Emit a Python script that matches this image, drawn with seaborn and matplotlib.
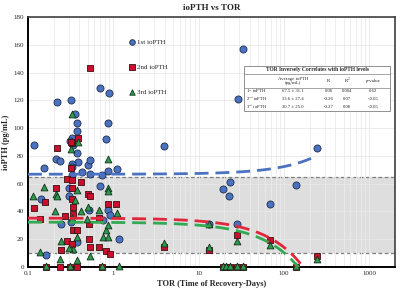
import numpy as np
import pandas as pd
import matplotlib
matplotlib.use("Agg")
import matplotlib.pyplot as plt
import seaborn as sns

# ---------------- data ----------------
x1 = [0.70, 0.885, 0.22, 0.317, 0.36, 0.38, 0.87, 0.38, 0.33, 0.83, 0.31, 0.34, 0.118, 3.95,
      32.8, 28.7, 243, 19.4, 23.3, 22.5, 68.7, 137, 28.4, 13.2,
      0.154, 0.215, 0.235, 0.38, 0.39, 0.33, 0.33, 0.43, 0.50, 0.54, 0.54, 0.74, 0.87, 1.09,
      0.33, 0.70, 0.30, 0.143, 0.30, 0.246, 0.164, 1.16, 0.87, 0.91, 0.52, 0.38, 0.32, 0.76]
y1 = [129, 125, 119, 120, 110, 104, 104, 98, 93, 92, 91, 88, 87.6, 87.1,
      157, 121, 86, 56.4, 61.2, 51.1, 45.6, 59.3, 31.2, 30.7,
      71, 77.5, 76.3, 82.3, 75.6, 74.4, 72, 68.4, 73.2, 76.8, 66.7, 66, 69, 70.8,
      66.5, 58.3, 56.9, 49.2, 50.9, 30.7, 8.4, 20, 40.8, 37.2, 40.8, 18, 32.4, 33.6]

x2 = [0.53, 0.22, 0.39, 0.33, 0.32, 0.32, 0.29, 0.33, 0.42, 0.215, 0.33, 0.117, 0.157, 0.51,
      0.53, 0.33, 0.34, 0.87, 1.07, 0.275, 0.34, 0.137, 0.68, 0.52, 0.34, 0.38, 0.52, 0.29,
      0.33, 0.246, 0.53, 0.68, 0.83, 0.91, 0.24, 0.38, 0.31, 0.73, 0.164,
      28.4, 68.7, 243, 3.95, 13.2, 19.2, 20.8, 23.3, 28.4, 33.4, 137]
y2 = [143, 86, 93, 89, 90, 71.3, 63.6, 63, 61.2, 57, 57, 42.8, 46.8, 52.8,
      50.9, 49.2, 43.2, 45.1, 45.1, 36.7, 38, 34.8, 35.5, 31.2, 26.4, 26.9, 20.4, 18.7,
      16.8, 12, 14.4, 14.4, 11.5, 9.6, 0, 0, 0, 0, 0,
      22.8, 19.7, 7.7, 14.4, 12, 0, 0, 0, 0, 0, 0]

x3 = [0.33, 0.39, 0.32, 0.87, 0.115, 0.154, 0.215, 0.22, 0.38, 0.36, 0.42, 0.21, 0.51, 0.68,
      1.09, 0.87, 0.87, 0.33, 0.83, 0.87, 0.246, 0.38, 0.137, 0.235, 0.38, 0.53, 0.76, 0.87,
      0.34, 0.30, 0.164, 0.31, 0.73, 1.16, 0.49,
      28.4, 68.7, 243, 3.95, 13.2, 13.2, 19.2, 20.8, 23.3, 28.4, 33.4, 137]
y3 = [110.4, 90, 84.7, 77.5, 50.9, 57.6, 52.8, 50.9, 55.7, 48, 40.1, 40.3, 43.2, 40.8,
      39.2, 57, 55, 35.6, 27, 30, 18.5, 21.6, 10.8, 6, 4.8, 7.7, 21.6, 21.6,
      13.2, 13.7, 0.5, 0.5, 0.5, 0.5, 34.8,
      18.5, 16.1, 6, 17.3, 14.4, 30.7, 0.5, 0.5, 0.5, 0.5, 0.5, 0.5]

series_names = ["1st ioPTH", "2nd ioPTH", "3rd ioPTH"]
trend_intercepts = [66.8, 35.2, 32.3]
trend_slopes = [0.055, -0.21, -0.22]

table_title = "TOR Inversely Correlates with ioPTH levels"
table_header = ["", "Average ioPTH\n(pg/mL)", "R", "R$^2$", "p-value"]
table_rows = [
    ["1$^{st}$ ioPTH", "67.5 \u00b1 31.1", "0.06", "0.004", "0.62"],
    ["2$^{nd}$ ioPTH", "33.6 \u00b1 27.4", "-0.26", "0.07", "<0.05"],
    ["3$^{rd}$ ioPTH", "30.7 \u00b1 25.0", "-0.27", "0.08", "<0.05"],
]

# ---------------- style ----------------
sns.set_style("white")
plt.rcParams["font.family"] = ["Liberation Serif", "DejaVu Serif"]
plt.rcParams["mathtext.fontset"] = "stix"

W, H = 400, 291
fig = plt.figure(figsize=(4.0, 2.91), dpi=100)
L, R, T, B = 28, 395, 17, 267
ax = fig.add_axes([L / W, 1 - B / H, (R - L) / W, (B - T) / H])

def axp(px, py):
    return (px - L) / (R - L), (B - py) / (B - T)

blue, red, green = "#4A72C0", "#C8102E", "#2E9A4E"

ax.axhspan(10, 65, color="#DEDEDE", zorder=0.1, lw=0)
ax.set_xscale("log")
ax.set_xlim(0.1, 2000)
ax.set_ylim(0, 180)
ax.set_yticks(range(0, 181, 20))
ax.grid(which="major", axis="both", color="#E8E8E8", lw=0.6, zorder=0.3)
ax.grid(which="minor", axis="x", color="#EBEBEB", lw=0.6, zorder=0.3)
ax.set_axisbelow(True)
for yv in (10, 65):
    ax.axhline(yv, color="#7F7F7F", lw=0.9, ls=(0, (3, 2)), zorder=0.5)

d1 = pd.DataFrame({"x": x1, "y": y1})
d2 = pd.DataFrame({"x": x2, "y": y2})
d3 = pd.DataFrame({"x": x3, "y": y3})
sns.scatterplot(data=d1, x="x", y="y", ax=ax, marker="o", s=26, color=blue,
                edgecolor="#1F2F4F", linewidth=0.6, label=series_names[0], zorder=3, clip_on=False)
sns.scatterplot(data=d2, x="x", y="y", ax=ax, marker="s", s=22, color=red,
                edgecolor="#3A1010", linewidth=0.6, label=series_names[1], zorder=3, clip_on=False)
sns.scatterplot(data=d3, x="x", y="y", ax=ax, marker="^", s=24, color=green,
                edgecolor="#10301A", linewidth=0.6, label=series_names[2], zorder=3, clip_on=False)

xs = np.logspace(-1, np.log10(243), 300)
for a, b, c in zip(trend_intercepts, trend_slopes, [blue, "#E0283C", "#34A853"]):
    sns.lineplot(x=xs, y=a + b * xs, ax=ax, color=c, lw=2.0, zorder=4,
                 dashes=False, linestyle=(0, (5, 2.5)))

# legend
leg = ax.legend(loc="upper left", bbox_to_anchor=axp(126, 36), frameon=False,
                fontsize=5, labelspacing=2.75, handletextpad=0.2, handlelength=1.0,
                borderaxespad=0, markerscale=0.8)

ax.set_title("ioPTH vs TOR", fontsize=6.5, fontweight="bold", pad=5)
ax.set_xlabel("TOR (Time of Recovery-Days)", fontsize=6, fontweight="bold", labelpad=3)
ax.set_ylabel("ioPTH (pg/mL)", fontsize=6, fontweight="bold", labelpad=2)
ax.set_xticks([0.1, 1, 10, 100, 1000])
ax.set_xticklabels(["0.1", "1", "10", "100", "1000"])
ax.tick_params(axis="both", labelsize=5, length=0, pad=3)
ax.tick_params(axis="x", which="minor", length=0)

for s in ["left", "bottom"]:
    ax.spines[s].set_color("black")
    ax.spines[s].set_linewidth(1.4)
for s in ["top", "right"]:
    ax.spines[s].set_color("#404040")
    ax.spines[s].set_linewidth(1.2)

# table box
x0, y0 = axp(244, 111)
x1b, y1b = axp(390, 66)
ax.add_patch(plt.Rectangle((x0, y0), x1b - x0, y1b - y0, transform=ax.transAxes,
                           facecolor="white", edgecolor="#808080", lw=0.6, zorder=6))
tx, ty = axp(317, 69.5)
ax.text(tx, ty, table_title, transform=ax.transAxes, ha="center", va="center",
        fontsize=4, fontweight="bold", zorder=7)
for yl in (73.5, 88):
    xa, ya = axp(244, yl)
    xb, _ = axp(390, yl)
    ax.plot([xa, xb], [ya, ya], transform=ax.transAxes, color="#808080", lw=0.5, zorder=7)
col_x = [246, 293, 329, 347, 373]
for i, h in enumerate(table_header):
    if not h:
        continue
    hx, hy = axp(col_x[i], 81)
    ax.text(hx, hy, h, transform=ax.transAxes, ha="center", va="center",
            fontsize=3.5, zorder=7, linespacing=1.3)
for r, row in enumerate(table_rows):
    py = [91.5, 99, 106.5][r]
    for i, v in enumerate(row):
        hx, hy = axp(col_x[i], py)
        ax.text(hx, hy, v, transform=ax.transAxes, ha="left" if i == 0 else "center",
                va="center", fontsize=3.4, zorder=7)

fig.savefig("out.png", dpi=100)
